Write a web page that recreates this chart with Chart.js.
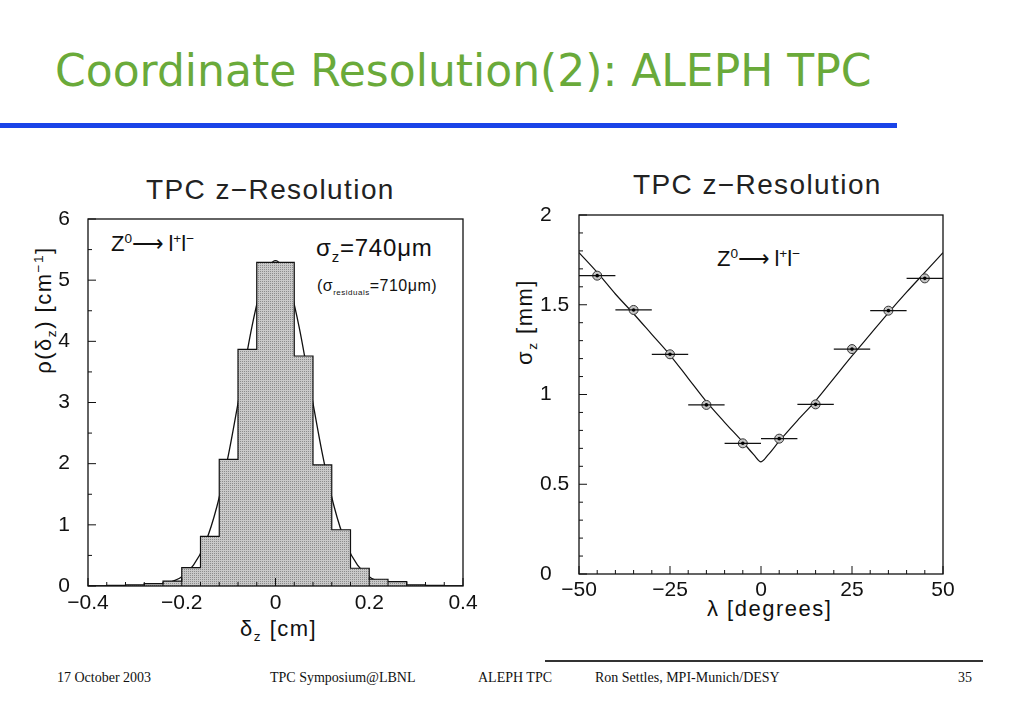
<!DOCTYPE html>
<html>
<head>
<meta charset="utf-8">
<script src="https://cdn.jsdelivr.net/npm/chart.js@4.4.1/dist/chart.umd.min.js"></script>
<style>
  body { margin: 0; width: 1023px; height: 708px; background: #fff; position: relative; overflow: hidden; font-family: "Liberation Sans", Arial, sans-serif; }
  .abs { position: absolute; white-space: nowrap; color: #111; }
  #slide-title { left: 55px; top: 45px; font-family: "DejaVu Sans", sans-serif; font-size: 44px; color: #6aaa3a; }
  #rule { position: absolute; left: 0; top: 123px; width: 897px; height: 5px; background: #1a44e8; }
  #foot-rule { position: absolute; left: 545px; top: 660px; width: 438px; height: 2px; background: #333; }
  .foot { font-family: "Liberation Serif", "Times New Roman", serif; font-size: 14px; top: 670px; color: #111; }
  .ctitle { font-size: 28px; letter-spacing: 1.4px; color: #222; }
  .ann { color: #111; }
  .axt { font-size: 22px; letter-spacing: 1.5px; }
  canvas { position: absolute; }
  sub, sup { font-size: 62%; }
</style>
</head>
<body>
<div id="slide-title" class="abs">Coordinate Resolution(2): ALEPH TPC</div>
<div id="rule"></div>

<div class="abs ctitle" style="left:146px; top:174px;">TPC z&minus;Resolution</div>
<div class="abs ctitle" style="left:633px; top:169px;">TPC z&minus;Resolution</div>

<div class="abs ann" style="left:111px; top:231px; font-size:22px;">Z<sup>0</sup>&#x27F6;&thinsp;l<sup>+</sup>l<sup>&minus;</sup></div>
<div class="abs ann" style="left:316px; top:234px; font-size:24px; letter-spacing:0.8px;">&sigma;<sub>z</sub>=740&mu;m</div>
<div class="abs ann" style="left:317px; top:277px; font-size:16px; letter-spacing:0.5px;">(&sigma;<sub style="font-size:50%">residuals</sub>=710&mu;m)</div>
<div class="abs ann" style="left:717px; top:246px; font-size:22px;">Z<sup>0</sup>&#x27F6;&thinsp;l<sup>+</sup>l<sup>&minus;</sup></div>

<div class="abs axt" style="left:45px; top:310px; transform: translate(-50%,-50%) rotate(-90deg);">&rho;(&delta;<sub>z</sub>) [cm<sup>&minus;1</sup>]</div>
<div class="abs axt" style="left:240px; top:616px;">&delta;<sub>z</sub> [cm]</div>
<div class="abs axt" style="left:526px; top:322px; transform: translate(-50%,-50%) rotate(-90deg);">&sigma;<sub>z</sub> [mm]</div>
<div class="abs axt" style="left:707px; top:596px;">&lambda; [degrees]</div>

<div id="foot-rule"></div>
<div class="abs foot" style="left:57px;">17 October 2003</div>
<div class="abs foot" style="left:270px;">TPC Symposium@LBNL</div>
<div class="abs foot" style="left:478px;">ALEPH TPC</div>
<div class="abs foot" style="left:595px;">Ron Settles, MPI-Munich/DESY</div>
<div class="abs foot" style="left:958px;">35</div>

<canvas id="hist" style="left:30px; top:165px;" width="460" height="480"></canvas>
<canvas id="reso" style="left:510px; top:160px;" width="470" height="450"></canvas>

<script>
// left: histogram of z residuals (bin edges, width 0.04 cm)
const binEdges = [-0.40, -0.36, -0.32, -0.28, -0.24, -0.20, -0.16, -0.12, -0.08, -0.04,
                  0.00, 0.04, 0.08, 0.12, 0.16, 0.20, 0.24, 0.28, 0.32, 0.36, 0.40];
const binHeights = [0, 0.01, 0.02, 0.04, 0.08, 0.30, 0.81, 2.07, 3.87, 5.29,
                    5.29, 3.76, 1.98, 0.92, 0.29, 0.11, 0.07, 0.02, 0.01, 0];
// gaussian fit curve
const fitX = [-0.40, -0.30, -0.25, -0.225, -0.20, -0.175, -0.15, -0.125, -0.10, -0.075, -0.05, -0.025, 0,
              0.025, 0.05, 0.075, 0.10, 0.125, 0.15, 0.175, 0.20, 0.225, 0.25, 0.30, 0.40];
const fitY = [0, 0.005, 0.02, 0.06, 0.15, 0.34, 0.70, 1.30, 2.16, 3.20, 4.25, 5.03, 5.32,
              5.03, 4.25, 3.20, 2.16, 1.30, 0.70, 0.34, 0.15, 0.06, 0.02, 0.005, 0];
const histXTicks = [-0.4, -0.2, 0, 0.2, 0.4];
const histYTicks = [0, 1, 2, 3, 4, 5, 6];

// right: sigma_z vs dip angle
const lambdaVals = [-45, -35, -25, -15, -5, 5, 15, 25, 35, 45];
const sigmaVals = [1.662, 1.471, 1.224, 0.942, 0.728, 0.754, 0.945, 1.253, 1.467, 1.647];
const lambdaErr = [5, 5, 5, 5, 5, 5, 5, 5, 5, 5];
const lineX = [-50, -45, -40, -35, -30, -25, -20, -15, -10, -5, -2, 0, 2, 5, 10, 15, 20, 25, 30, 35, 40, 45, 50];
const lineY = [1.79, 1.68, 1.56, 1.45, 1.335, 1.22, 1.09, 0.96, 0.845, 0.735, 0.665, 0.625, 0.665, 0.74,
               0.855, 0.965, 1.09, 1.215, 1.335, 1.455, 1.57, 1.68, 1.79];
const resoXTicks = [-50, -25, 0, 25, 50];
const resoYTicks = [0, 0.5, 1, 1.5, 2];

const fmt = v => (v < 0 ? '\u2212' + Math.abs(v) : String(v));

// frame + inward ticks, HBOOK style
function framePlugin(xMinor, yMinor) {
    return {
        id: 'frame',
        afterDatasetsDraw(chart) {
            const { ctx, chartArea: a, scales: { x, y } } = chart;
            ctx.save();
            ctx.strokeStyle = '#111';
            ctx.lineWidth = 1.3;
            ctx.strokeRect(a.left, a.top, a.right - a.left, a.bottom - a.top);
            ctx.lineWidth = 1;
            ctx.beginPath();
            for (let v = x.min; v <= x.max + 1e-9; v += xMinor) {
                const px = x.getPixelForValue(v);
                const major = x.ticks.some(t => Math.abs(t.value - v) < 1e-6);
                ctx.moveTo(px, a.bottom);
                ctx.lineTo(px, a.bottom - (major ? 8 : 4));
            }
            for (let v = y.min; v <= y.max + 1e-9; v += yMinor) {
                const py = y.getPixelForValue(v);
                const major = y.ticks.some(t => Math.abs(t.value - v) < 1e-6);
                ctx.moveTo(a.left, py);
                ctx.lineTo(a.left + (major ? 8 : 4), py);
            }
            ctx.stroke();
            ctx.restore();
        }
    };
}

const tickFont = { family: '"Liberation Sans", Arial, sans-serif', size: 21 };

// fine dotted fill for the histogram
const pat = document.createElement('canvas');
pat.width = 2; pat.height = 2;
const pc = pat.getContext('2d');
pc.fillStyle = '#c9c9c9';
pc.fillRect(0, 0, 2, 2);
pc.fillStyle = '#8c8c8c';
pc.fillRect(0, 0, 1, 1);
const stipple = document.getElementById('hist').getContext('2d').createPattern(pat, 'repeat');

new Chart(document.getElementById('hist'), {
    type: 'line',
    data: {
        datasets: [{
            data: binEdges.map((e, i) => ({ x: e, y: i < binHeights.length ? binHeights[i] : 0 })),
            stepped: 'before',
            fill: 'origin',
            backgroundColor: stipple,
            borderColor: '#111',
            borderWidth: 1.2,
            pointRadius: 0
        }, {
            data: fitX.map((v, i) => ({ x: v, y: fitY[i] })),
            borderColor: '#111',
            borderWidth: 1.3,
            cubicInterpolationMode: 'monotone',
            pointRadius: 0,
            fill: false
        }]
    },
    options: {
        responsive: false,
        animation: false,
        layout: { padding: { top: 54, right: 27, left: 0, bottom: 0 } },
        plugins: { legend: { display: false }, tooltip: { enabled: false } },
        scales: {
            x: {
                type: 'linear', min: -0.4, max: 0.4,
                afterBuildTicks: s => { s.ticks = histXTicks.map(v => ({ value: v })); },
                afterFit: s => { s.height = 59; },
                grid: { display: false, drawTicks: false }, border: { display: false },
                ticks: { padding: 5, color: '#111', font: tickFont, maxRotation: 0, callback: v => fmt(v) }
            },
            y: {
                min: 0, max: 6,
                afterBuildTicks: s => { s.ticks = histYTicks.map(v => ({ value: v })); },
                afterFit: s => { s.width = 58; },
                grid: { display: false, drawTicks: false }, border: { display: false },
                ticks: { padding: 18, color: '#111', font: tickFont, callback: v => fmt(v) }
            }
        }
    },
    plugins: [framePlugin(0.04, 0.5)]
});

const errBars = {
    id: 'errBars',
    afterDatasetsDraw(chart) {
        const { ctx, scales: { x, y } } = chart;
        ctx.save();
        ctx.strokeStyle = '#111';
        ctx.fillStyle = '#000';
        ctx.lineWidth = 1.3;
        lambdaVals.forEach((l, i) => {
            const py = y.getPixelForValue(sigmaVals[i]);
            ctx.beginPath();
            ctx.moveTo(x.getPixelForValue(l - lambdaErr[i]), py);
            ctx.lineTo(x.getPixelForValue(l + lambdaErr[i]), py);
            ctx.stroke();
            ctx.beginPath();
            ctx.arc(x.getPixelForValue(l), py, 1.8, 0, Math.PI * 2);
            ctx.fill();
        });
        ctx.restore();
    }
};

new Chart(document.getElementById('reso'), {
    type: 'scatter',
    data: {
        datasets: [{
            data: lambdaVals.map((l, i) => ({ x: l, y: sigmaVals[i] })),
            pointRadius: 4.5,
            pointBackgroundColor: '#c4c4c4',
            pointBorderColor: '#333',
            pointBorderWidth: 1,
            showLine: false
        }, {
            data: lineX.map((v, i) => ({ x: v, y: lineY[i] })),
            showLine: true,
            borderColor: '#111',
            borderWidth: 1.2,
            cubicInterpolationMode: 'monotone',
            pointRadius: 0
        }]
    },
    options: {
        responsive: false,
        animation: false,
        layout: { padding: { top: 55, right: 37, left: 30, bottom: 0 } },
        plugins: { legend: { display: false }, tooltip: { enabled: false } },
        scales: {
            x: {
                type: 'linear', min: -50, max: 50,
                afterBuildTicks: s => { s.ticks = resoXTicks.map(v => ({ value: v })); },
                afterFit: s => { s.height = 36; },
                grid: { display: false, drawTicks: false }, border: { display: false },
                ticks: { padding: 4, color: '#111', font: tickFont, maxRotation: 0, callback: v => fmt(v) }
            },
            y: {
                min: 0, max: 2,
                afterBuildTicks: s => { s.ticks = resoYTicks.map(v => ({ value: v })); },
                afterFit: s => { s.width = 39; },
                grid: { display: false, drawTicks: false }, border: { display: false },
                ticks: { padding: 8, crossAlign: 'far', color: '#111', font: tickFont, callback: v => fmt(v) }
            }
        }
    },
    plugins: [framePlugin(5, 0.1), errBars]
});
</script>
</body>
</html>
